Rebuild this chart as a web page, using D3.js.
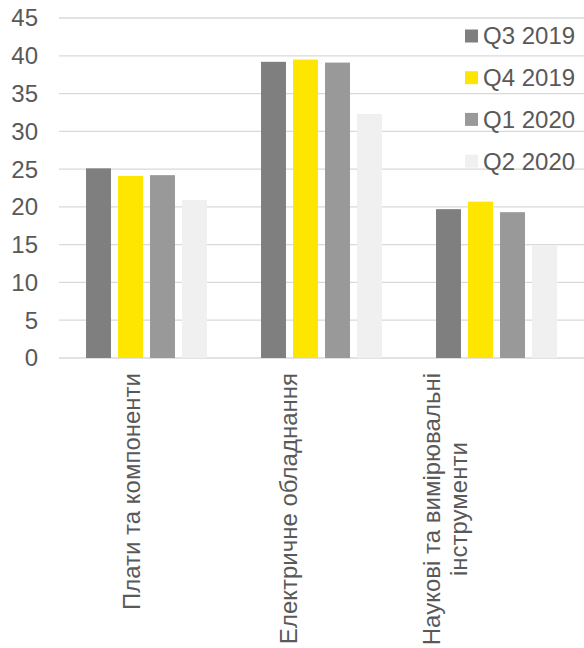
<!DOCTYPE html>
<html lang="uk">
<head>
<meta charset="UTF-8">
<title>Chart</title>
<script src="https://cdn.jsdelivr.net/npm/d3@7"></script>
<style>
    body { margin: 0; background: #fff; }
    svg text { font-family: "Liberation Sans", Arial, sans-serif; fill: #595959; }
</style>
</head>
<body>
<div id="chart"></div>
<script>
    const categories = [
        ["Плати та компоненти"],
        ["Електричне обладнання"],
        ["Наукові та вимірювальні", "інструменти"]
    ];
    const seriesNames = ["Q3 2019", "Q4 2019", "Q1 2020", "Q2 2020"];
    const seriesColors = ["#7f7f7f", "#ffe600", "#999999", "#f0f0f0"];
    const values = [
        [25.1, 39.2, 19.7],  // Q3 2019
        [24.1, 39.5, 20.7],  // Q4 2019
        [24.2, 39.1, 19.3],  // Q1 2020
        [20.9, 32.3, 14.9]   // Q2 2020
    ];
    const yTicks = [0, 5, 10, 15, 20, 25, 30, 35, 40, 45];

    const width = 584, height = 648;
    const plotLeft = 59, plotRight = 584, plotTop = 18, plotBottom = 358;

    const svg = d3.select("#chart").append("svg")
        .attr("width", width).attr("height", height);

    const x0 = d3.scaleBand()
        .domain(d3.range(categories.length))
        .range([plotLeft, plotRight]);
    const x1 = d3.scaleBand()
        .domain(seriesNames)
        .range([x0.bandwidth() / 2 - 64, x0.bandwidth() / 2 + 64])
        .paddingInner(0.22)
        .paddingOuter(0.11);
    const y = d3.scaleLinear().domain([0, 45]).range([plotBottom, plotTop]);

    // grid
    svg.append("g").selectAll("line")
        .data(yTicks)
        .join("line")
        .attr("x1", plotLeft).attr("x2", plotRight)
        .attr("y1", d => y(d)).attr("y2", d => y(d))
        .attr("stroke", "#d9d9d9")
        .attr("stroke-width", 1.3);

    // y labels
    svg.append("g").selectAll("text")
        .data(yTicks)
        .join("text")
        .attr("x", 38)
        .attr("y", d => y(d))
        .attr("dy", "0.35em")
        .attr("text-anchor", "end")
        .style("font-size", "24px")
        .text(d => d);

    // bars
    const groups = svg.append("g").selectAll("g")
        .data(categories.map((c, i) => i))
        .join("g")
        .attr("transform", i => `translate(${x0(i)},0)`);
    groups.selectAll("rect")
        .data(i => seriesNames.map((s, k) => ({ s, k, v: values[k][i] })))
        .join("rect")
        .attr("x", d => x1(d.s))
        .attr("width", x1.bandwidth())
        .attr("y", d => y(d.v))
        .attr("height", d => y(0) - y(d.v))
        .attr("fill", d => seriesColors[d.k]);

    // category labels (rotated)
    const labelTop = 373;
    const lineGap = 27;
    categories.forEach((lines, i) => {
        const cx = x0(i) + x0.bandwidth() / 2 - 15 - 18 * i;
        const t = svg.append("text")
            .attr("text-anchor", "middle")
            .style("font-size", "24px");
        const n = lines.length;
        lines.forEach((ln, j) => {
            t.append("tspan")
                .attr("x", 0)
                .attr("y", (j - (n - 1) / 2) * lineGap)
                .attr("dy", "0.35em")
                .text(ln);
        });
        let maxLen = 0;
        t.selectAll("tspan").each(function () {
            maxLen = Math.max(maxLen, this.getComputedTextLength());
        });
        t.attr("transform", `translate(${cx},${labelTop + maxLen / 2}) rotate(-90)`);
    });

    // legend
    const legend = svg.append("g").attr("transform", "translate(465,36)");
    const item = legend.selectAll("g")
        .data(seriesNames)
        .join("g")
        .attr("transform", (d, i) => `translate(0,${i * 41.7})`);
    item.append("rect")
        .attr("x", 0).attr("y", -6.5)
        .attr("width", 13).attr("height", 13)
        .attr("fill", (d, i) => seriesColors[i]);
    item.append("text")
        .attr("x", 18)
        .attr("dy", "0.35em")
        .style("font-size", "24px")
        .text(d => d);
</script>
</body>
</html>
